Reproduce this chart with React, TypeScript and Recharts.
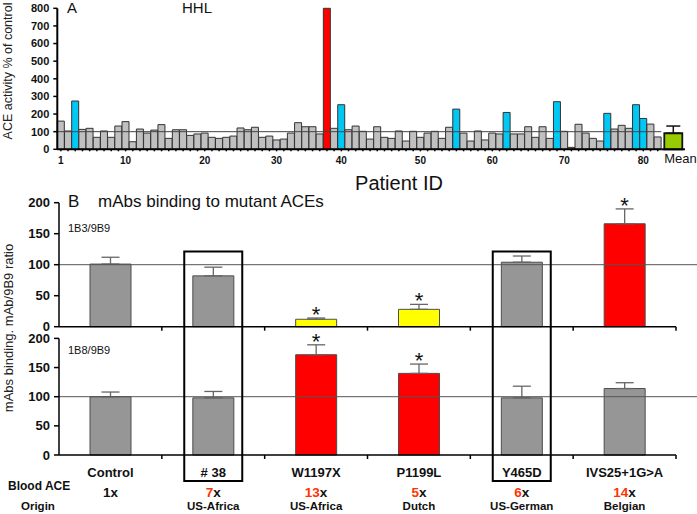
import React from "react";
import {
  ComposedChart, Bar, Cell, XAxis, YAxis, ReferenceLine, ErrorBar, Scatter,
} from "recharts";

const FONT = "Liberation Sans, Arial, Helvetica, sans-serif";

// ---- Panel A: ACE activity (% of control) per patient ----
const patientActivity = [
  160, 104, 274, 113, 119, 68, 104, 68, 132, 157,
  43, 115, 92, 109, 140, 62, 111, 111, 79, 87,
  92, 68, 62, 68, 75, 121, 111, 125, 68, 75,
  53, 58, 92, 151, 128, 128, 87, 800, 119, 253,
  111, 132, 102, 58, 128, 68, 62, 104, 47, 102,
  68, 92, 102, 62, 125, 228, 92, 47, 104, 53,
  92, 87, 209, 87, 87, 128, 68, 128, 62, 270,
  102, 11, 142, 92, 62, 47, 204, 115, 136, 119,
  253, 175, 143, 70,
];
const bluePatients = [3, 40, 56, 63, 70, 77, 81, 82];
const redPatients = [38];
const olivePatients = [72];
const patientTickAt = [1, 10, 21, 31, 40, 51, 61, 71, 82];
const patientTickText = ["1", "10", "20", "30", "40", "50", "60", "70", "80"];
const activityTicks = [0, 100, 200, 300, 400, 500, 600, 700, 800];
const meanActivity = 91;
const meanActivityErr = 41;

// ---- Panel B: mAbs binding to mutant ACEs ----
const mutants = ["Control", "# 38", "W1197X", "P1199L", "Y465D", "IVS25+1G>A"];
const ratio1B3 = [101, 82, 12, 28, 104, 166];
const err1B3 = [11, 14, 2, 8, 10, 24];
const star1B3 = [false, false, true, true, false, true];
const fill1B3 = ["#969696", "#969696", "#ffff00", "#ffff00", "#969696", "#ff0000"];
const ratio1B8 = [100, 98, 172, 140, 98, 114];
const err1B8 = [8, 11, 17, 16, 20, 10];
const star1B8 = [false, false, true, true, false, false];
const fill1B8 = ["#969696", "#969696", "#ff0000", "#ff0000", "#969696", "#969696"];
const bloodAce = ["1", "7", "13", "5", "6", "14"];
const origin = ["", "US-Africa", "US-Africa", "Dutch", "US-German", "Belgian"];
const boxed = ["# 38", "Y465D"];
const ratioTicks = [0, 50, 100, 150, 200];

// layout
const W = 697;
const A_H = 175, A_TOP = 8.3, A_BOT = 149.3, A_LEFT = 57.3, A_RIGHT = 661.3, A_XH = 20;
const B_LEFT = 59, B_RIGHT = 676;
const BAND = (B_RIGHT - B_LEFT) / mutants.length;

const patientData = patientActivity.map((v, i) => ({ id: i + 1, value: v }));
const patientColor = (id: number) =>
  redPatients.includes(id) ? "#ff0000"
    : bluePatients.includes(id) ? "#00c8f5"
    : olivePatients.includes(id) ? "#999900"
    : "#c0c0c0";
const meanData = [{ name: "Mean", value: meanActivity, err: [0, meanActivityErr] }];

const topData = mutants.map((name, i) => ({
  name, value: ratio1B3[i], err: [0, err1B3[i]], star: star1B3[i] ? ratio1B3[i] + err1B3[i] : null,
}));
const bottomData = mutants.map((name, i) => ({
  name, value: ratio1B8[i], err: [0, err1B8[i]], star: star1B8[i] ? ratio1B8[i] + err1B8[i] : null,
}));

const PatientTick = (p: any) => {
  const i = patientTickAt.indexOf(p.payload.value);
  if (i < 0) return <g />;
  return (
    <text x={p.x} y={p.y + 13} textAnchor="middle" fontSize={10} fontWeight="bold" fill="#111" fontFamily={FONT}>
      {patientTickText[i]}
    </text>
  );
};

const MeanTick = (p: any) => (
  <text x={p.x - 9} y={p.y + 14} textAnchor="start" fontSize={13} fill="#111" fontFamily={FONT}>
    {p.payload.value}
  </text>
);

const BoundaryTick = (p: any) => (
  <line x1={p.x + BAND / 2} x2={p.x + BAND / 2} y1={p.y} y2={p.y + 4} stroke="#000" strokeWidth={1.5} />
);

const MutantTick = (p: any) => {
  const i = mutants.indexOf(p.payload.value);
  return (
    <g fontFamily={FONT} fontWeight="bold">
      <line x1={p.x + BAND / 2} x2={p.x + BAND / 2} y1={p.y} y2={p.y + 4} stroke="#000" strokeWidth={1.5} />
      <text x={p.x} y={p.y + 22} textAnchor="middle" fontSize={13} fill="#111">{p.payload.value}</text>
      <text x={p.x} y={p.y + 42} textAnchor="middle" fontSize={13.5}>
        <tspan fill={i === 0 ? "#111" : "#ff3300"}>{bloodAce[i]}</tspan>
        <tspan fill="#111">x</tspan>
      </text>
      <text x={p.x} y={p.y + 55} textAnchor="middle" fontSize={11.5} fill="#111">{origin[i]}</text>
    </g>
  );
};

const StarShape = (p: any) => {
  if (p.payload == null || p.payload.star == null) return <g />;
  return (
    <text x={p.cx} y={p.cy + 4} textAnchor="middle" fontSize={22} fill="#111" fontFamily={FONT}>*</text>
  );
};

const longRef = (p: any) => (
  <line x1={p.x1} y1={p.y1} x2={p.x2 + (W - B_RIGHT)} y2={p.y2} stroke="#555" strokeWidth={1} />
);

const yTick = { fontSize: 13, fontWeight: "bold", fill: "#111", fontFamily: FONT } as const;

function MutantPanel({ data, fills, top, height, plotTop, plotBottom, xHeight, tick }: any) {
  return (
    <div style={{ position: "absolute", left: 0, top }}>
      <ComposedChart
        width={W}
        height={height}
        data={data}
        margin={{ top: plotTop - top, right: W - B_RIGHT, left: 0, bottom: height - (plotBottom - top) - xHeight }}
      >
        <XAxis
          dataKey="name"
          height={xHeight}
          interval={0}
          tickLine={false}
          tickSize={0}
          tickMargin={0}
          axisLine={{ stroke: "#000", strokeWidth: 1.5 }}
          tick={tick}
        />
        <YAxis
          width={B_LEFT}
          domain={[0, 200]}
          ticks={ratioTicks}
          interval={0}
          tickSize={5}
          tickMargin={4}
          axisLine={{ stroke: "#000", strokeWidth: 1.5 }}
          tickLine={{ stroke: "#000", strokeWidth: 1.5 }}
          tick={yTick}
        />
        <Bar dataKey="value" barSize={41} stroke="#4d4d4d" strokeWidth={1} isAnimationActive={false}>
          {data.map((d: any, i: number) => <Cell key={d.name} fill={fills[i]} />)}
          <ErrorBar dataKey="err" width={9} stroke="#666" strokeWidth={1.3} direction="y" />
        </Bar>
        <ReferenceLine y={100} shape={longRef} />
        <Scatter dataKey="star" shape={StarShape} isAnimationActive={false} />
      </ComposedChart>
    </div>
  );
}

export default function App() {
  return (
    <div style={{ position: "absolute", left: 0, top: 0, width: W, height: 514, overflow: "hidden", background: "#fff" }}>
      {/* Panel A */}
      <div style={{ position: "absolute", left: 0, top: 0 }}>
        <ComposedChart
          width={W}
          height={A_H}
          data={patientData}
          barCategoryGap={0}
          barGap={0}
          margin={{ top: A_TOP, right: W - A_RIGHT, left: 0, bottom: A_H - A_BOT - A_XH }}
        >
          <XAxis
            dataKey="id"
            interval={0}
            height={A_XH}
            tickSize={2}
            tickMargin={0}
            axisLine={{ stroke: "#000", strokeWidth: 2 }}
            tickLine={{ stroke: "#000", strokeWidth: 1.5 }}
            tick={PatientTick}
          />
          <YAxis
            width={A_LEFT}
            domain={[0, 800]}
            ticks={activityTicks}
            interval={0}
            tickSize={4}
            tickMargin={4}
            axisLine={{ stroke: "#000", strokeWidth: 2 }}
            tickLine={{ stroke: "#000", strokeWidth: 1.5 }}
            tick={{ fontSize: 11, fontWeight: "bold", fill: "#111", fontFamily: FONT }}
          />
          <Bar dataKey="value" stroke="#333" strokeWidth={1} isAnimationActive={false}>
            {patientData.map((d) => <Cell key={d.id} fill={patientColor(d.id)} />)}
          </Bar>
          <ReferenceLine y={100} stroke="#444" strokeWidth={1} />
        </ComposedChart>
      </div>

      {/* Panel A mean bar */}
      <div style={{ position: "absolute", left: 0, top: 0 }}>
        <ComposedChart
          width={W}
          height={A_H}
          data={meanData}
          margin={{ top: A_TOP, right: 12, left: A_RIGHT, bottom: A_H - A_BOT - A_XH }}
        >
          <XAxis
            dataKey="name"
            height={A_XH}
            tickLine={false}
            tickSize={0}
            tickMargin={0}
            axisLine={{ stroke: "#000", strokeWidth: 2 }}
            tick={MeanTick}
          />
          <YAxis hide domain={[0, 800]} />
          <Bar dataKey="value" barSize={18} fill="#99cc00" stroke="#111" strokeWidth={1.8} isAnimationActive={false}>
            <ErrorBar dataKey="err" width={7} stroke="#111" strokeWidth={1.5} direction="y" />
          </Bar>
        </ComposedChart>
      </div>

      {/* Panel B */}
      <MutantPanel
        data={topData}
        fills={fill1B3}
        top={190}
        height={150}
        plotTop={202.7}
        plotBottom={326.7}
        xHeight={10}
        tick={BoundaryTick}
      />
      <MutantPanel
        data={bottomData}
        fills={fill1B8}
        top={330}
        height={184}
        plotTop={338.4}
        plotBottom={455}
        xHeight={56}
        tick={MutantTick}
      />

      {/* labels and boxes */}
      <svg width={W} height={514} style={{ position: "absolute", left: 0, top: 0, pointerEvents: "none" }} fontFamily={FONT}>
        <text x={67} y={13} fontSize={15} fill="#111">A</text>
        <text x={182} y={13} fontSize={15} fill="#111">HHL</text>
        <text transform="translate(12,71) rotate(-90)" textAnchor="middle" fontSize={12.5} fill="#222">
          ACE activity % of control
        </text>
        <text x={399} y={190} textAnchor="middle" fontSize={20} fill="#111">Patient ID</text>

        <text x={68} y={207} fontSize={17} fill="#111">B</text>
        <text x={98} y={207} fontSize={17} fill="#111">mAbs binding to mutant ACEs</text>
        <text x={68} y={232} fontSize={11} fill="#111">1B3/9B9</text>
        <text x={68} y={354} fontSize={11} fill="#111">1B8/9B9</text>
        <text transform="translate(13,328) rotate(-90)" textAnchor="middle" fontSize={13} fill="#222">
          mAbs binding. mAb/9B9 ratio
        </text>

        <text x={8} y={490} fontSize={12} fontWeight="bold" fill="#111">Blood ACE</text>
        <text x={21} y={510} fontSize={11.5} fontWeight="bold" fill="#111">Origin</text>

        {boxed.map((name) => {
          const cx = B_LEFT + BAND * (mutants.indexOf(name) + 0.5);
          return (
            <rect key={name} x={cx - 29} y={251.5} width={58} height={229.5} fill="none" stroke="#000" strokeWidth={2} />
          );
        })}
      </svg>
    </div>
  );
}
